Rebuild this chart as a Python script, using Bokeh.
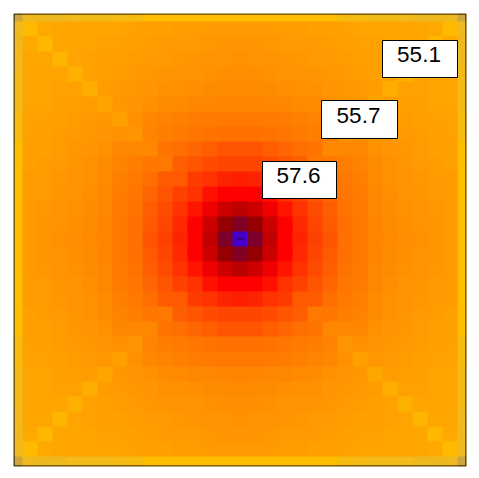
from bokeh.plotting import figure
from bokeh.embed import file_html
from bokeh.resources import INLINE
from bokeh.core.properties import value
from bokeh.models import LinearColorMapper
import numpy as np

# Top-left quadrant of the 31x31 field, edge row/column first, centre last
quadrant = [
 [53.6,54.0,54.0,54.0,54.05,54.1,54.1,54.15,54.2,54.4,54.4,54.4,54.4,54.4,54.4,54.4],
 [54.0,54.5,55.0,55.05,55.1,55.1,55.1,55.1,55.15,55.2,55.2,55.25,55.25,55.3,55.3,55.3],
 [54.0,55.0,54.6,55.05,55.1,55.1,55.15,55.15,55.2,55.25,55.3,55.3,55.3,55.35,55.4,55.4],
 [54.0,55.05,55.05,54.65,55.1,55.15,55.2,55.2,55.25,55.3,55.3,55.35,55.4,55.45,55.45,55.5],
 [54.1,55.1,55.1,55.1,54.75,55.15,55.2,55.25,55.3,55.35,55.4,55.45,55.45,55.5,55.55,55.55],
 [54.1,55.1,55.1,55.15,55.15,54.85,55.25,55.3,55.35,55.4,55.5,55.5,55.55,55.6,55.6,55.65],
 [54.1,55.1,55.1,55.2,55.2,55.25,55.05,55.35,55.4,55.5,55.6,55.65,55.7,55.75,55.8,55.8],
 [54.2,55.15,55.15,55.2,55.25,55.3,55.35,55.2,55.5,55.7,55.85,55.95,56.05,56.1,56.15,56.15],
 [54.2,55.15,55.2,55.25,55.3,55.35,55.4,55.5,55.4,55.86,56.0,56.1,56.24,56.34,56.44,56.44],
 [54.4,55.2,55.2,55.3,55.35,55.4,55.5,55.7,55.7,55.7,56.34,56.5,56.8,57.0,57.3,57.3],
 [54.4,55.2,55.25,55.3,55.4,55.5,55.6,55.85,56.0,56.24,56.18,57.0,57.3,57.6,57.73,57.73],
 [54.4,55.25,55.3,55.35,55.45,55.5,55.65,55.95,56.18,56.5,57.15,57.15,58.0,58.25,58.6,58.75],
 [54.4,55.25,55.3,55.4,55.45,55.55,55.7,56.05,56.24,56.8,57.3,57.86,58.25,59.1,59.5,59.55],
 [54.4,55.3,55.35,55.45,55.5,55.6,55.75,56.1,56.34,57.0,57.6,58.25,59.0,59.8,60.5,60.8],
 [54.4,55.3,55.4,55.45,55.55,55.6,55.8,56.15,56.44,57.15,57.73,58.5,59.5,60.5,61.5,62.2],
 [54.4,55.3,55.4,55.5,55.55,55.65,55.8,56.15,56.44,57.3,57.86,58.6,59.5,60.7,62.35,64.0],
]
label_texts = ["57.6", "55.7", "55.1"]

# Colour scale anchors
scale_values = [53.6,54.0,54.4,54.8,55.1,55.7,56.5,57.6,58.5,59.5,60.5,61.5,62.5,64.0]
scale_colors = [(205,165,60),(240,185,30),(255,190,0),(255,175,0),(255,163,0),(255,135,0),(255,110,0),
                (255,75,0),(255,40,0),(255,0,0),(205,0,0),(150,0,0),(120,0,50),(70,0,200)]

q = np.array(quadrant)
top = np.hstack([q, q[:, -2::-1]])
field = np.vstack([top, top[-2::-1]])

grid = np.linspace(scale_values[0], scale_values[-1], 512)
palette = ["#%02x%02x%02x" % tuple(int(round(np.interp(g, scale_values, [c[k] for c in scale_colors]))) for k in range(3)) for g in grid]
mapper = LinearColorMapper(palette=palette, low=scale_values[0], high=scale_values[-1])

n = field.shape[0]
SX, SY = 15.0, 15.0
X0, Y0 = 239.5, 238.5
FL, FR, FT, FB = 13, 466, 13, 466
W, H = 479, 478

p = figure(width=W, height=H, output_backend="svg", toolbar_location=None,
           x_range=((FL - X0) / SX, (FR - X0) / SX), y_range=((Y0 - FB) / SY, (Y0 - FT) / SY),
           min_border_left=FL, min_border_right=W - FR, min_border_top=FT, min_border_bottom=H - FB)
p.axis.visible = False
p.grid.visible = False
p.outline_line_color = None
p.background_fill_color = "white"
p.border_fill_color = "white"

# Each cell repeated to its pixel size, so the browser does not blur the cell edges
cell = int(SX)
sharp = np.repeat(np.repeat(field, cell, axis=0), cell, axis=1)
p.image(image=[sharp], x=-n / 2, y=-n / 2, dw=n, dh=n, color_mapper=mapper)

# One-pixel frame on the outermost pixels of the plot area
p.quad(left=[(FL + 0.5 - X0) / SX], right=[(FR - 0.5 - X0) / SX], top=[(Y0 - FT - 0.5) / SY], bottom=[(Y0 - FB + 0.5) / SY],
       fill_color=None, line_color="black", line_width=1)

# Label boxes, pixel extents converted to data units
boxes = [(262, 336, 161, 198), (321, 397, 100, 138), (382, 457, 40, 77)]
for (l, r, t, b), s in zip(boxes, label_texts):
    p.quad(left=[(l - X0) / SX], right=[(r - X0) / SX], top=[(Y0 - t) / SY], bottom=[(Y0 - b) / SY],
           fill_color="white", line_color="black", line_width=1)
    p.text(x=[((l + r) / 2 - 1 - X0) / SX], y=[(Y0 - (t + b) / 2 + 4.5) / SY], text=[s], text_font=value("Liberation Sans"),
           text_font_size="22.5px", text_align="center", text_baseline="middle", text_color="black")

# Small dash at the centre cell
p.segment(x0=[-0.2], x1=[0.2], y0=[0], y1=[0], line_color="#101040", line_width=1)

open("out.html", "w").write(file_html(p, INLINE))
